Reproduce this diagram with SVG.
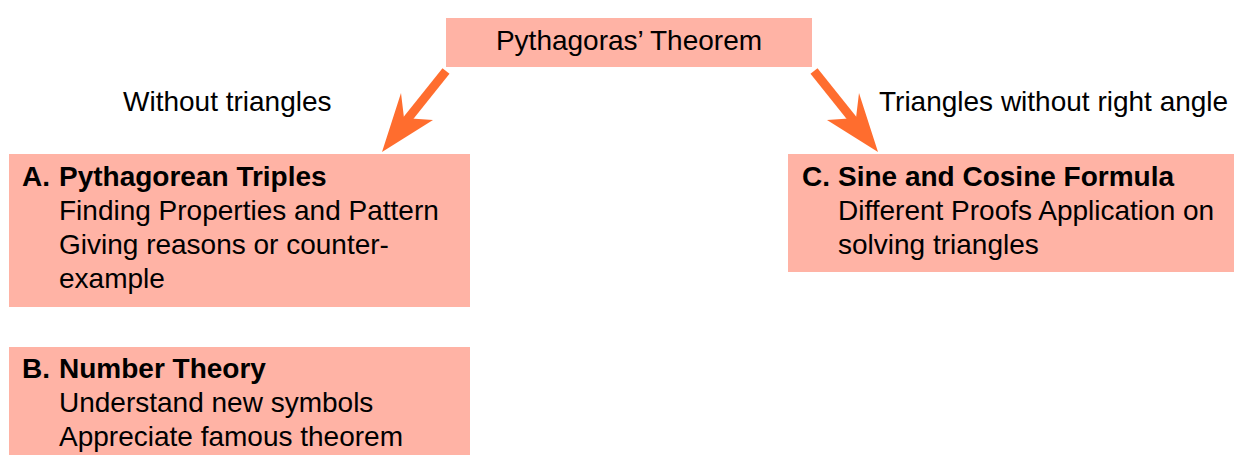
<svg xmlns="http://www.w3.org/2000/svg" width="1234" height="455" viewBox="0 0 1234 455">
<style>
.box{fill:#FFB3A5}
.t{font-family:"Liberation Sans",Arial,sans-serif;font-size:28px;fill:#000}
.b{font-weight:bold}
.shaft{stroke:#FF6D2E;stroke-width:9;fill:none}
.head{fill:#FF6D2E}
</style>
<rect width="1234" height="455" fill="#fff"/>
<g id="connectors">
<line class="shaft" x1="446" y1="71" x2="398" y2="131"/>
<polygon class="head" points="382,152 401,93 404,118 433,120"/>
<line class="shaft" x1="814" y1="71" x2="862" y2="131"/>
<polygon class="head" points="878,152 859,93 856,118 827,120"/>
<text class="t" x="123" y="111">Without triangles</text>
<text class="t" x="879" y="111">Triangles without right angle</text>
</g>
<g id="root">
<rect class="box" x="446" y="18" width="366" height="49"/>
<text class="t" x="629" y="50" text-anchor="middle">Pythagoras’ Theorem</text>
</g>
<g id="nodeA">
<rect class="box" x="9" y="154" width="461" height="153"/>
<text class="t b" x="22" y="186">A.</text>
<text class="t b" x="59" y="186">Pythagorean Triples</text>
<text class="t" x="59" y="220">Finding Properties and Pattern</text>
<text class="t" x="59" y="254">Giving reasons or counter-</text>
<text class="t" x="59" y="288">example</text>
</g>
<g id="nodeB">
<rect class="box" x="9" y="347" width="461" height="110"/>
<text class="t b" x="22" y="378">B.</text>
<text class="t b" x="59" y="378">Number Theory</text>
<text class="t" x="59" y="412">Understand new symbols</text>
<text class="t" x="59" y="446">Appreciate famous theorem</text>
</g>
<g id="nodeC">
<rect class="box" x="788" y="154" width="448" height="118"/>
<text class="t b" x="802" y="186">C.</text>
<text class="t b" x="838" y="186">Sine and Cosine Formula</text>
<text class="t" x="838" y="220">Different Proofs Application on</text>
<text class="t" x="838" y="254">solving triangles</text>
</g>
</svg>
